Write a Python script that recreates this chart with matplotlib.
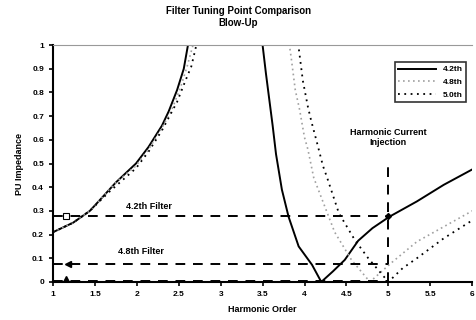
import matplotlib.pyplot as plt
import numpy as np

# harmonic order / PU impedance (values > 1 are clipped at the top)
h_42 = [1.0, 1.24, 1.44, 1.57, 1.75, 1.99, 2.14, 2.30, 2.38, 2.48, 2.56, 2.61, 2.66,
        3.45, 3.50, 3.54, 3.58, 3.62, 3.66, 3.73, 3.81, 3.93, 4.09, 4.20,
        4.34, 4.48, 4.64, 4.81, 5.01, 5.34, 5.66, 6.0]
z_42 = [0.21, 0.25, 0.30, 0.35, 0.42, 0.50, 0.57, 0.66, 0.72, 0.81, 0.90, 1.0, 1.2,
        1.2, 1.0, 0.88, 0.77, 0.66, 0.54, 0.39, 0.275, 0.15, 0.072, 0.0,
        0.045, 0.093, 0.174, 0.227, 0.275, 0.34, 0.41, 0.475]

h_48 = [1.0, 1.24, 1.44, 1.57, 1.75, 1.99, 2.14, 2.30, 2.42, 2.52, 2.60, 2.67, 2.72,
        3.78, 3.82, 3.84, 3.89, 3.94, 4.0, 4.04, 4.11, 4.24, 4.36, 4.56, 4.78,
        5.03, 5.34, 5.66, 6.0]
z_48 = [0.21, 0.25, 0.30, 0.35, 0.42, 0.49, 0.56, 0.65, 0.73, 0.82, 0.91, 1.0, 1.2,
        1.2, 1.0, 0.95, 0.81, 0.73, 0.61, 0.56, 0.44, 0.32, 0.21, 0.093, 0.0,
        0.079, 0.17, 0.233, 0.30]

h_50 = [1.0, 1.24, 1.44, 1.67, 1.99, 2.14, 2.30, 2.42, 2.48, 2.58, 2.65, 2.71, 2.76,
        3.90, 3.93, 3.98, 4.04, 4.08, 4.14, 4.22, 4.27, 4.41, 4.60, 4.76, 5.0,
        5.17, 5.34, 5.66, 6.0]
z_50 = [0.21, 0.25, 0.30, 0.38, 0.48, 0.55, 0.64, 0.72, 0.76, 0.85, 0.91, 1.0, 1.2,
        1.2, 0.99, 0.85, 0.74, 0.68, 0.60, 0.49, 0.44, 0.29, 0.177, 0.10, 0.0,
        0.058, 0.10, 0.184, 0.26]

labels = ["4.2th", "4.8th", "5.0th"]
ref_levels = [0.28, 0.075, 0.005]
inj_h = 5.0
inj_top = 0.5

xticks = [1, 1.5, 2, 2.5, 3, 3.5, 4, 4.5, 5, 5.5, 6]
xticklabels = ["1", "1.5", "2", "2.5", "3", "3.5", "4", "4.5", "5", "5.5", "6"]
yticks = [0, 0.1, 0.2, 0.3, 0.4, 0.5, 0.6, 0.7, 0.8, 0.9, 1]
yticklabels = ["0", "0.1", "0.2", "0.3", "0.4", "0.5", "0.6", "0.7", "0.8", "0.9", "1"]

plt.rcParams['font.family'] = ['Liberation Sans', 'DejaVu Sans']

fig = plt.figure(figsize=(4.77, 3.2), dpi=100)
ax = fig.add_axes([0.111, 0.119, 0.879, 0.74])

ax.plot(h_42, z_42, color='black', lw=1.4, label=labels[0])
ax.plot(h_48, z_48, color='#a0a0a0', lw=1.2, ls=(0, (1, 2)), label=labels[1])
ax.plot(h_50, z_50, color='black', lw=1.3, ls=(0, (1, 2.5)), label=labels[2])

# reference lines
for lv in ref_levels:
    ax.plot([1, inj_h], [lv, lv], color='black', lw=1.4, ls=(0, (5, 4)))
ax.plot([inj_h, inj_h], [0, inj_top], color='black', lw=1.4, ls=(0, (5, 4)))

ax.plot([1.15], [0.28], marker='s', ms=4, mfc='white', mec='black', mew=0.8)
ax.plot([1.18], [0.075], marker='<', ms=4, color='black')
ax.plot([1.15], [0.012], marker='^', ms=4, color='black')
ax.plot([inj_h], [0.28], marker='D', ms=3, color='black')

ax.text(2.15, 0.32, "4.2th Filter", fontsize=6.5, fontweight='bold', ha='center', va='center')
ax.text(2.05, 0.128, "4.8th Filter", fontsize=6.5, fontweight='bold', ha='center', va='center')
ax.text(5.0, 0.61, "Harmonic Current\nInjection", fontsize=6.5, fontweight='bold',
        ha='center', va='center')

ax.set_xlim(1, 6)
ax.set_ylim(0, 1)
ax.set_xticks(xticks)
ax.set_xticklabels(xticklabels)
ax.set_yticks(yticks)
ax.set_yticklabels(yticklabels)
ax.tick_params(labelsize=6, width=1.2, length=3)
for lab in ax.get_xticklabels() + ax.get_yticklabels():
    lab.set_fontweight('bold')

ax.spines['right'].set_visible(False)
ax.spines['top'].set_color('#999999')
ax.spines['left'].set_linewidth(1.5)
ax.spines['bottom'].set_linewidth(1.5)

ax.set_xlabel("Harmonic Order", fontsize=6.5, fontweight='bold', labelpad=5)
ax.set_ylabel("PU Impedance", fontsize=6.5, fontweight='bold', labelpad=6)
fig.suptitle("Filter Tuning Point Comparison\nBlow-Up", fontsize=7, fontweight='bold',
             y=0.98)

leg = ax.legend(loc='upper right', bbox_to_anchor=(0.995, 0.945), fontsize=6,
                frameon=True, fancybox=False, edgecolor='black', handlelength=4.5,
                borderpad=0.4, labelspacing=0.6)
leg.get_frame().set_linewidth(1.2)
for t in leg.get_texts():
    t.set_fontweight('bold')

fig.savefig("out.png", dpi=100)
